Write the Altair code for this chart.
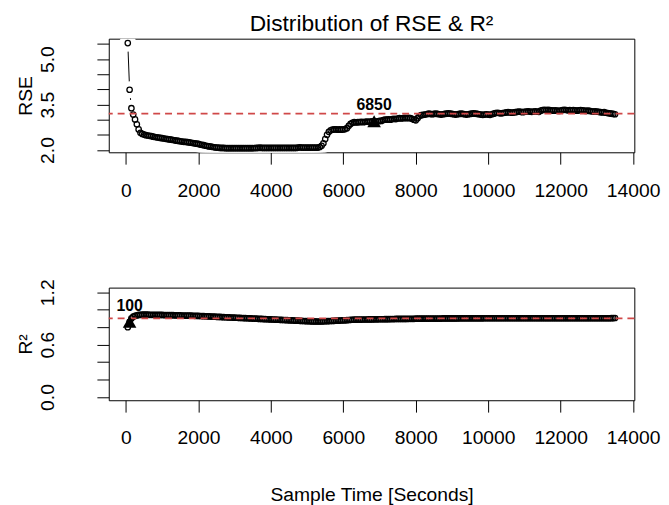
import altair as alt
import pandas as pd

# Sample times (seconds), one fit every 50 s
time_s = list(range(50, 13501, 50))

# Residual standard error per sample time
rse = [
    5.53, 3.99, 3.38, 3.17, 3.01, 2.85, 2.68, 2.57, 2.53, 2.51,
    2.49, 2.48, 2.47, 2.46, 2.44, 2.43, 2.42, 2.41, 2.40, 2.39,
    2.38, 2.37, 2.36, 2.35, 2.34, 2.33, 2.32, 2.31, 2.30, 2.29,
    2.28, 2.27, 2.27, 2.26, 2.25, 2.24, 2.23, 2.22, 2.21, 2.20,
    2.18, 2.17, 2.16, 2.14, 2.13, 2.12, 2.11, 2.10, 2.09, 2.08,
    2.08, 2.07, 2.07, 2.07, 2.06, 2.06, 2.06, 2.06, 2.06, 2.06,
    2.06, 2.06, 2.06, 2.06, 2.06, 2.06, 2.06, 2.06, 2.06, 2.06,
    2.06, 2.07, 2.07, 2.08, 2.07, 2.07, 2.07, 2.07, 2.07, 2.07,
    2.07, 2.07, 2.07, 2.07, 2.07, 2.07, 2.07, 2.07, 2.07, 2.07,
    2.07, 2.07, 2.07, 2.07, 2.08, 2.09, 2.08, 2.08, 2.08, 2.08,
    2.08, 2.08, 2.08, 2.08, 2.08, 2.08, 2.10, 2.14, 2.22, 2.36,
    2.50, 2.60, 2.65, 2.67, 2.68, 2.68, 2.67, 2.68, 2.67, 2.68,
    2.69, 2.72, 2.80, 2.86, 2.90, 2.92, 2.91, 2.92, 2.92, 2.93,
    2.92, 2.93, 2.94, 2.93, 2.94, 2.95, 2.95, 2.94, 2.95, 2.96,
    2.96, 2.99, 3.00, 3.00, 3.01, 3.00, 3.02, 3.03, 3.02, 3.04,
    3.05, 3.04, 3.05, 3.06, 3.05, 3.06, 3.05, 3.03, 3.00, 2.98,
    3.05, 3.12, 3.15, 3.16, 3.17, 3.18, 3.20, 3.19, 3.18, 3.19,
    3.20, 3.19, 3.18, 3.17, 3.18, 3.19, 3.20, 3.21, 3.20, 3.19,
    3.18, 3.17, 3.18, 3.19, 3.20, 3.19, 3.18, 3.17, 3.18, 3.19,
    3.20, 3.21, 3.20, 3.19, 3.18, 3.17, 3.16, 3.17, 3.18, 3.17,
    3.16, 3.18, 3.20, 3.22, 3.23, 3.22, 3.21, 3.22, 3.23, 3.24,
    3.25, 3.24, 3.23, 3.24, 3.25, 3.26, 3.27, 3.26, 3.25, 3.26,
    3.27, 3.28, 3.27, 3.26, 3.27, 3.28, 3.27, 3.26, 3.30, 3.32,
    3.33, 3.32, 3.33, 3.32, 3.31, 3.30, 3.31, 3.30, 3.29, 3.30,
    3.32, 3.33, 3.32, 3.31, 3.32, 3.31, 3.32, 3.31, 3.30, 3.31,
    3.32, 3.31, 3.30, 3.29, 3.30, 3.29, 3.28, 3.27, 3.28, 3.27,
    3.26, 3.25, 3.24, 3.25, 3.23, 3.22, 3.21, 3.20, 3.19, 3.18,
]

# Coefficient of determination per sample time
r2 = [
    0.800, 0.860, 0.900, 0.920, 0.930, 0.935, 0.940, 0.942, 0.943, 0.943,
    0.943, 0.943, 0.942, 0.942, 0.942, 0.941, 0.941, 0.940, 0.940, 0.940,
    0.939, 0.939, 0.938, 0.938, 0.937, 0.937, 0.936, 0.936, 0.935, 0.935,
    0.934, 0.934, 0.933, 0.933, 0.932, 0.932, 0.931, 0.930, 0.930, 0.929,
    0.928, 0.927, 0.926, 0.925, 0.924, 0.923, 0.922, 0.921, 0.920, 0.919,
    0.918, 0.917, 0.916, 0.915, 0.914, 0.913, 0.912, 0.911, 0.910, 0.909,
    0.908, 0.907, 0.906, 0.905, 0.904, 0.903, 0.902, 0.901, 0.900, 0.899,
    0.898, 0.897, 0.896, 0.895, 0.894, 0.893, 0.892, 0.891, 0.890, 0.889,
    0.888, 0.887, 0.886, 0.885, 0.884, 0.883, 0.882, 0.881, 0.880, 0.879,
    0.878, 0.877, 0.876, 0.875, 0.874, 0.873, 0.872, 0.871, 0.870, 0.869,
    0.868, 0.867, 0.866, 0.866, 0.865, 0.865, 0.865, 0.866, 0.867, 0.868,
    0.869, 0.870, 0.871, 0.872, 0.873, 0.874, 0.875, 0.876, 0.877, 0.878,
    0.879, 0.880, 0.882, 0.884, 0.885, 0.886, 0.886, 0.887, 0.887, 0.887,
    0.888, 0.888, 0.888, 0.889, 0.889, 0.889, 0.890, 0.890, 0.890, 0.891,
    0.891, 0.891, 0.892, 0.892, 0.892, 0.893, 0.893, 0.893, 0.894, 0.894,
    0.894, 0.895, 0.895, 0.895, 0.895, 0.896, 0.896, 0.896, 0.896, 0.897,
    0.897, 0.897, 0.897, 0.898, 0.898, 0.898, 0.898, 0.898, 0.899, 0.899,
    0.899, 0.899, 0.899, 0.899, 0.900, 0.900, 0.900, 0.900, 0.900, 0.900,
    0.900, 0.900, 0.900, 0.901, 0.901, 0.901, 0.901, 0.901, 0.901, 0.901,
    0.901, 0.901, 0.901, 0.901, 0.901, 0.901, 0.901, 0.902, 0.902, 0.902,
    0.902, 0.902, 0.902, 0.902, 0.902, 0.902, 0.902, 0.902, 0.902, 0.902,
    0.902, 0.902, 0.902, 0.902, 0.902, 0.902, 0.902, 0.902, 0.902, 0.902,
    0.902, 0.902, 0.902, 0.902, 0.902, 0.902, 0.902, 0.902, 0.902, 0.902,
    0.902, 0.902, 0.902, 0.902, 0.902, 0.902, 0.902, 0.902, 0.902, 0.902,
    0.902, 0.902, 0.902, 0.902, 0.902, 0.902, 0.902, 0.902, 0.902, 0.902,
    0.902, 0.902, 0.902, 0.902, 0.902, 0.902, 0.902, 0.902, 0.902, 0.902,
    0.902, 0.902, 0.902, 0.902, 0.902, 0.902, 0.902, 0.903, 0.904, 0.905,
]

# Reference lines and highlighted sample times
rse_ref = 3.2
r2_ref = 0.9
rse_mark_time = 6850
r2_mark_time = 100

x_ticks = [0, 2000, 4000, 6000, 8000, 10000, 12000, 14000]
rse_ticks = [2.0, 2.5, 3.0, 3.5, 4.0, 4.5, 5.0, 5.5]
rse_labels = [2.0, 3.5, 5.0]
r2_ticks = [0.0, 0.2, 0.4, 0.6, 0.8, 1.0, 1.2]
r2_labels = [0.0, 0.6, 1.2]

FONT = "Liberation Sans"
RED = "#d04848"
W = 532

df = pd.DataFrame({"t": time_s, "rse": rse, "r2": r2})


def panel(field, domain, ticks, shown, ref, mark_t, ytitle, height, xtitle, xlab_pad):
    cond = " || ".join(f"datum.value == {v}" for v in shown)
    xaxis = alt.Axis(
        values=x_ticks, format="d", title=xtitle,
        labelPadding=xlab_pad, labelBaseline="middle",
        titleX=W / 2, titleY=95, titleBaseline="middle", titleAlign="center",
    )
    yaxis = alt.Axis(
        values=ticks, labelExpr=f"({cond}) ? format(datum.value, '.1f') : ''",
        labelAngle=-90, labelAlign="center", labelBaseline="middle", labelPadding=50,
        title=ytitle, titleAngle=270, titleX=-84, titleY=height / 2,
        titleAlign="center", titleBaseline="middle",
    )
    x = alt.X("t:Q", scale=alt.Scale(domain=[-475, 14033], nice=False, zero=False), axis=xaxis)
    y = alt.Y(f"{field}:Q", scale=alt.Scale(domain=domain, nice=False, zero=False), axis=yaxis)

    base = alt.Chart(df)
    line = base.mark_line(color="black", strokeWidth=1).encode(x=x, y=y)
    under = base.mark_circle(color="white", size=300, opacity=1, clip=True).encode(x=x, y=y)
    pts = base.mark_point(shape="circle", filled=False, color="black", size=30,
                          strokeWidth=1.3, opacity=1).encode(x=x, y=y)
    rule = alt.Chart(pd.DataFrame({field: [ref]})).mark_rule(
        color=RED, strokeDash=[7, 5], strokeWidth=1.8).encode(y=y)
    hl = base.transform_filter(alt.datum.t == mark_t)
    tri = hl.mark_point(shape="triangle-up", filled=True, color="black", size=190,
                        opacity=1).encode(x=x, y=y)
    txt = hl.mark_text(font=FONT, fontSize=16, fontWeight="bold", baseline="alphabetic",
                       dy=-11, color="black").encode(x=x, y=y, text=alt.Text("t:Q", format="d"))
    return alt.layer(line, under, pts, rule, tri, txt).properties(width=W, height=height)


top = panel("rse", [1.925, 5.675], rse_ticks, rse_labels, rse_ref, rse_mark_time,
            "RSE", 115, "", 27).properties(
    title=alt.TitleParams("Distribution of RSE & R²", font=FONT, fontSize=23,
                          fontWeight="normal", anchor="middle", frame="group",
                          baseline="alphabetic", offset=-15.7, color="black"))
bottom = panel("r2", [-0.037, 1.253], r2_ticks, r2_labels, r2_ref, r2_mark_time,
               "R²", 114, "Sample Time [Seconds]", 26)

chart = alt.vconcat(top, bottom, spacing=137, bounds="flush").properties(
    padding={"left": 7, "top": 1, "right": 0, "bottom": 0},
    background="white",
).configure_view(stroke="black", strokeWidth=1).configure_axis(
    grid=False, domain=False, tickSize=12, tickColor="black", tickWidth=1,
    labelFont=FONT, labelFontSize=19.5, labelColor="black",
    titleFont=FONT, titleFontSize=19.5, titleFontWeight="normal", titleColor="black",
)

chart.save("out.html", embed_options={"renderer": "svg", "actions": False})
